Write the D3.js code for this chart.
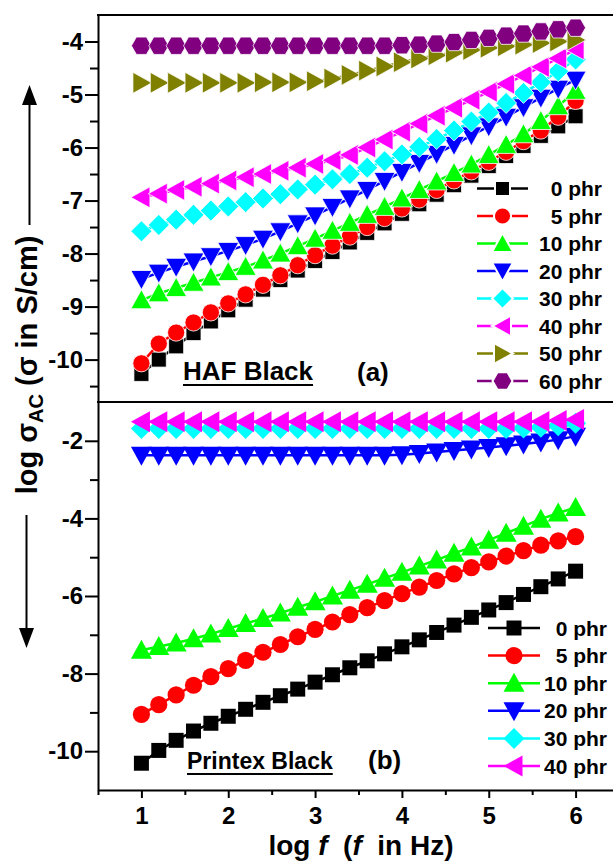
<!DOCTYPE html>
<html>
<head>
<meta charset="utf-8">
<script src="https://cdn.jsdelivr.net/npm/d3@7"></script>
<style>
  body { margin: 0; background: #fff; }
  text { font-family: "Liberation Sans", Arial, sans-serif; font-weight: bold; }
</style>
</head>
<body>
<script>
// log f values (f in Hz)
const logF = [1.0, 1.2, 1.4, 1.6, 1.8, 2.0, 2.2, 2.4, 2.6, 2.8, 3.0, 3.2, 3.4, 3.6, 3.8, 4.0, 4.2, 4.4, 4.6, 4.8, 5.0, 5.2, 5.4, 5.6, 5.8, 6.0];

// (a) HAF Black, log sigma_AC
const hafPhr0 = [-10.27, -10.0, -9.75, -9.5, -9.28, -9.07, -8.87, -8.68, -8.5, -8.32, -8.14, -7.97, -7.79, -7.61, -7.43, -7.25, -7.07, -6.89, -6.71, -6.53, -6.35, -6.16, -5.97, -5.78, -5.6, -5.41];
const hafPhr5 = [-10.07, -9.7, -9.49, -9.3, -9.11, -8.94, -8.77, -8.59, -8.41, -8.22, -8.03, -7.85, -7.68, -7.5, -7.33, -7.15, -6.98, -6.8, -6.62, -6.45, -6.27, -6.08, -5.88, -5.68, -5.42, -5.12];
const hafPhr10 = [-8.88, -8.75, -8.65, -8.55, -8.45, -8.35, -8.25, -8.13, -8.0, -7.86, -7.72, -7.57, -7.42, -7.27, -7.12, -6.96, -6.8, -6.64, -6.48, -6.32, -6.14, -5.95, -5.75, -5.5, -5.22, -4.93];
const hafPhr20 = [-8.48, -8.36, -8.25, -8.15, -8.05, -7.95, -7.84, -7.72, -7.58, -7.43, -7.28, -7.12, -6.96, -6.8, -6.63, -6.46, -6.29, -6.12, -5.95, -5.77, -5.6, -5.42, -5.24, -5.06, -4.89, -4.72];
const hafPhr30 = [-7.58, -7.46, -7.36, -7.27, -7.19, -7.11, -7.03, -6.96, -6.88, -6.79, -6.7, -6.6, -6.5, -6.38, -6.26, -6.13, -5.99, -5.84, -5.68, -5.51, -5.34, -5.16, -4.97, -4.77, -4.56, -4.34];
const hafPhr40 = [-6.94, -6.87, -6.8, -6.74, -6.68, -6.62, -6.56, -6.5, -6.44, -6.38, -6.31, -6.24, -6.14, -6.0, -5.85, -5.7, -5.55, -5.4, -5.25, -5.1, -4.95, -4.8, -4.64, -4.48, -4.32, -4.15];
const hafPhr50 = [-4.78, -4.78, -4.78, -4.78, -4.78, -4.78, -4.78, -4.77, -4.77, -4.77, -4.75, -4.7, -4.63, -4.55, -4.47, -4.39, -4.32, -4.26, -4.21, -4.16, -4.12, -4.09, -4.06, -4.03, -4.0, -3.97];
const hafPhr60 = [-4.08, -4.08, -4.08, -4.08, -4.08, -4.08, -4.08, -4.08, -4.08, -4.08, -4.08, -4.08, -4.08, -4.08, -4.08, -4.07, -4.06, -4.04, -4.01, -3.97, -3.93, -3.89, -3.85, -3.81, -3.77, -3.74];

// (b) Printex Black
const printexPhr0 = [-10.31, -9.98, -9.72, -9.48, -9.28, -9.1, -8.92, -8.74, -8.57, -8.4, -8.22, -8.03, -7.85, -7.67, -7.49, -7.31, -7.13, -6.94, -6.75, -6.55, -6.36, -6.17, -5.96, -5.76, -5.56, -5.36];
const printexPhr5 = [-9.05, -8.8, -8.55, -8.3, -8.08, -7.87, -7.66, -7.45, -7.25, -7.05, -6.86, -6.67, -6.48, -6.3, -6.12, -5.94, -5.77, -5.6, -5.43, -5.27, -5.12, -4.97, -4.83, -4.69, -4.58, -4.47];
const printexPhr10 = [-7.4, -7.3, -7.21, -7.1, -6.98, -6.84, -6.71, -6.58, -6.44, -6.29, -6.15, -6.0, -5.85, -5.7, -5.54, -5.39, -5.23, -5.07, -4.9, -4.74, -4.56, -4.38, -4.2, -4.02, -3.86, -3.72];
const printexPhr20 = [-2.37, -2.37, -2.37, -2.37, -2.37, -2.37, -2.37, -2.37, -2.37, -2.37, -2.37, -2.37, -2.37, -2.37, -2.37, -2.36, -2.33, -2.29, -2.25, -2.21, -2.17, -2.13, -2.08, -2.03, -1.97, -1.88];
const printexPhr30 = [-1.68, -1.68, -1.68, -1.68, -1.68, -1.68, -1.68, -1.68, -1.68, -1.68, -1.68, -1.68, -1.68, -1.68, -1.68, -1.68, -1.68, -1.68, -1.68, -1.68, -1.68, -1.68, -1.67, -1.65, -1.61, -1.55];
const printexPhr40 = [-1.51, -1.51, -1.51, -1.51, -1.51, -1.51, -1.51, -1.51, -1.51, -1.51, -1.51, -1.51, -1.51, -1.51, -1.51, -1.51, -1.51, -1.51, -1.51, -1.51, -1.51, -1.51, -1.51, -1.5, -1.48, -1.45];

const legendLabels = ['0 phr', '5 phr', '10 phr', '20 phr', '30 phr', '40 phr', '50 phr', '60 phr'];
const xTicks = [1, 2, 3, 4, 5, 6];
const xMinor = [0.5, 1.5, 2.5, 3.5, 4.5, 5.5];
const topTicks = [-4, -5, -6, -7, -8, -9, -10];
const topMinor = [-4.5, -5.5, -6.5, -7.5, -8.5, -9.5, -10.5];
const botTicks = [-2, -4, -6, -8, -10];
const botMinor = [-3, -5, -7, -9];

const colors = ['#000000', '#ff0000', '#00ff00', '#0000ff', '#00ffff', '#ff00ff', '#808000', '#800080'];
const shapes = ['square', 'circle', 'up', 'down', 'diamond', 'left', 'right', 'hexagon'];

const width = 613, height = 862;
const svg = d3.select('body').append('svg').attr('width', width).attr('height', height);

const x = d3.scaleLinear().domain([0.5, 6.5]).range([98, 619]);
const yTop = d3.scaleLinear().domain([-10.8, -3.5]).range([402, 15]);
const yBot = d3.scaleLinear().domain([-11, -1]).range([790, 402]);

function markerPath(kind) {
  switch (kind) {
    case 'square': return 'M-7.5,-7.5H7.5V7.5H-7.5Z';
    case 'circle': return d3.symbol(d3.symbolCircle, Math.PI * 8.6 * 8.6)();
    case 'up': return 'M0,-10.5L10.5,8.5H-10.5Z';
    case 'down': return 'M0,10.5L10.5,-8.5H-10.5Z';
    case 'left': return 'M-10.5,0L8.5,-10.5V10.5Z';
    case 'right': return 'M10.5,0L-8.5,-10.5V10.5Z';
    case 'diamond': return 'M0,-10.5L10.5,0L0,10.5L-10.5,0Z';
    case 'hexagon': {
      let pts = d3.range(6).map(i => [10 * Math.cos(i * Math.PI / 3), 10 * Math.sin(i * Math.PI / 3)]);
      return 'M' + pts.join('L') + 'Z';
    }
  }
}

function drawPanel(seriesList, y, whiteEdge) {
  let line = d3.line().x((d, i) => x(logF[i])).y(d => y(d));
  let g = svg.append('g');
  seriesList.forEach(function(vals, k) {
    g.append('path')
      .attr('d', line(vals))
      .attr('fill', 'none')
      .attr('stroke', colors[k])
      .attr('stroke-width', 2.5);
    g.selectAll('.m' + k)
      .data(vals)
      .enter().append('path')
      .attr('class', 'm' + k)
      .attr('transform', (d, i) => 'translate(' + x(logF[i]) + ',' + y(d) + ')')
      .attr('d', markerPath(shapes[k]))
      .attr('fill', colors[k])
      .attr('stroke', whiteEdge ? '#fff' : 'none')
      .attr('stroke-width', 0.8);
  });
}

drawPanel([hafPhr0, hafPhr5, hafPhr10, hafPhr20, hafPhr30, hafPhr40, hafPhr50, hafPhr60], yTop, true);
drawPanel([printexPhr0, printexPhr5, printexPhr10, printexPhr20, printexPhr30, printexPhr40], yBot, false);

// axes
function styleAxis(g, fontSize) {
  g.selectAll('path, line').attr('stroke', '#000').attr('stroke-width', 2);
  g.selectAll('text').attr('fill', '#000').attr('font-size', fontSize)
    .attr('font-family', '"Liberation Sans", Arial, sans-serif').attr('font-weight', 'bold');
}

let gTop = svg.append('g').attr('transform', 'translate(98,0)')
  .call(d3.axisLeft(yTop).tickValues(topTicks).tickSize(13).tickSizeOuter(0).tickPadding(2).tickFormat(d => String(d)));
styleAxis(gTop, 24);
let gTopMinor = svg.append('g').attr('transform', 'translate(98,0)')
  .call(d3.axisLeft(yTop).tickValues(topMinor).tickSize(8).tickFormat(''));
gTopMinor.select('.domain').remove();
styleAxis(gTopMinor, 0);

let gBot = svg.append('g').attr('transform', 'translate(98,0)')
  .call(d3.axisLeft(yBot).tickValues(botTicks).tickSize(13).tickSizeOuter(0).tickPadding(2).tickFormat(d => String(d)));
styleAxis(gBot, 24);
let gBotMinor = svg.append('g').attr('transform', 'translate(98,0)')
  .call(d3.axisLeft(yBot).tickValues(botMinor).tickSize(8).tickFormat(''));
gBotMinor.select('.domain').remove();
styleAxis(gBotMinor, 0);

let gX = svg.append('g').attr('transform', 'translate(0,790)')
  .call(d3.axisBottom(x).tickValues(xTicks).tickSize(8).tickSizeOuter(0).tickPadding(9).tickFormat(d => String(d)));
styleAxis(gX, 24);
let gXMinor = svg.append('g').attr('transform', 'translate(0,790)')
  .call(d3.axisBottom(x).tickValues(xMinor).tickSize(5).tickFormat(''));
gXMinor.select('.domain').remove();
styleAxis(gXMinor, 0);

// frame lines: top border and divider
svg.append('line').attr('x1', 97).attr('x2', width).attr('y1', 15).attr('y2', 15).attr('stroke', '#000').attr('stroke-width', 2);
svg.append('line').attr('x1', 97).attr('x2', width).attr('y1', 402).attr('y2', 402).attr('stroke', '#000').attr('stroke-width', 2);

// legends
function drawLegend(n, x0, x1, xText, yFirst, step, whiteEdge) {
  let g = svg.append('g');
  for (let k = 0; k < n; k++) {
    let yy = yFirst + k * step;
    g.append('line').attr('x1', x0).attr('x2', x1).attr('y1', yy).attr('y2', yy)
      .attr('stroke', colors[k]).attr('stroke-width', 2.5);
    g.append('path').attr('d', markerPath(shapes[k]))
      .attr('transform', 'translate(' + ((x0 + x1) / 2) + ',' + yy + ')')
      .attr('fill', colors[k])
      .attr('stroke', whiteEdge ? '#fff' : 'none').attr('stroke-width', 2);
    g.append('text').attr('x', xText).attr('y', yy + 7.5)
      .attr('text-anchor', 'end').attr('font-size', 21).text(legendLabels[k]);
  }
}
drawLegend(8, 477, 528, 602, 188.5, 27.5, true);
drawLegend(6, 488, 540, 607, 628, 27.6, false);

// panel labels
function underlined(txt, x0, y0, size) {
  let t = svg.append('text').attr('x', x0).attr('y', y0).attr('font-size', size).text(txt);
  let w = t.node().getComputedTextLength();
  svg.append('line').attr('x1', x0).attr('x2', x0 + w).attr('y1', y0 + 5).attr('y2', y0 + 5)
    .attr('stroke', '#000').attr('stroke-width', 2);
}
underlined('HAF Black', 183, 380, 26);
svg.append('text').attr('x', 357).attr('y', 381).attr('font-size', 26).text('(a)');
underlined('Printex Black', 187, 769, 23);
svg.append('text').attr('x', 368).attr('y', 769).attr('font-size', 26).text('(b)');

// y title with arrows
let yTitle = svg.append('text')
  .attr('transform', 'translate(37,365) rotate(-90)')
  .attr('text-anchor', 'middle').attr('font-size', 29);
yTitle.append('tspan').text('log σ');
yTitle.append('tspan').attr('font-size', 20).attr('dy', 6).text('AC');
yTitle.append('tspan').attr('dy', -6).text(' (σ in S/cm)');

svg.append('line').attr('x1', 29.5).attr('x2', 29.5).attr('y1', 225).attr('y2', 100).attr('stroke', '#000').attr('stroke-width', 2);
svg.append('path').attr('d', 'M29.5,85L37,105H22Z').attr('fill', '#000');
svg.append('line').attr('x1', 26.5).attr('x2', 26.5).attr('y1', 515).attr('y2', 632).attr('stroke', '#000').attr('stroke-width', 2);
svg.append('path').attr('d', 'M26.5,648L34,628H19Z').attr('fill', '#000');

// x title
let xTitle = svg.append('text').attr('x', 361).attr('y', 855)
  .attr('text-anchor', 'middle').attr('font-size', 28).style('white-space', 'pre');
xTitle.append('tspan').text('log ');
xTitle.append('tspan').attr('font-style', 'italic').text('f');
xTitle.append('tspan').text('  (');
xTitle.append('tspan').attr('font-style', 'italic').text('f');
xTitle.append('tspan').text('  in Hz)');
</script>
</body>
</html>
